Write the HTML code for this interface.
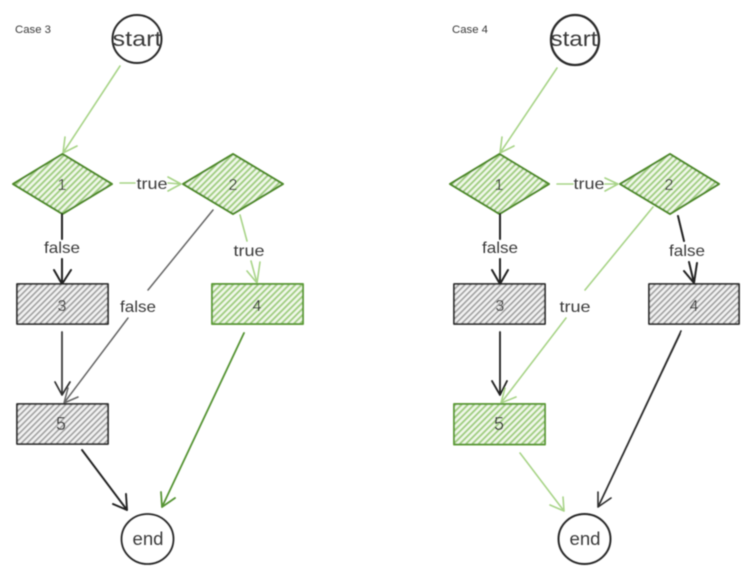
<!DOCTYPE html>
<html><head><meta charset="utf-8"><style>
html,body{margin:0;padding:0;background:#fff;width:746px;height:573px;overflow:hidden}
svg{display:block}
text{font-family:"Liberation Sans",sans-serif;fill:#3a3a3a;text-anchor:middle}
</style></head><body>
<svg width="746" height="573" viewBox="0 0 746 573" xmlns="http://www.w3.org/2000/svg">
<defs>
<pattern id="hg" width="4.4" height="4.4" patternUnits="userSpaceOnUse" patternTransform="rotate(45)">
<rect width="4.4" height="4.4" fill="#f1f8ea"/><rect width="2" height="4.4" fill="#a2cf82"/></pattern>
<pattern id="hk" width="4.2" height="4.2" patternUnits="userSpaceOnUse" patternTransform="rotate(45)">
<rect width="4.2" height="4.2" fill="#f2f2f2"/><rect width="1.7" height="4.2" fill="#a0a0a0"/></pattern>
<filter id="b" x="-5%" y="-5%" width="110%" height="110%"><feGaussianBlur stdDeviation="0.45"/></filter>
</defs>
<g filter="url(#b)" fill="none" stroke-linecap="round" stroke-linejoin="round">

<!-- CASE 3 -->
<text x="33" y="33" font-size="11" textLength="36" lengthAdjust="spacingAndGlyphs" stroke="none">Case 3</text>
<ellipse cx="137" cy="39" rx="24.5" ry="24" stroke="#2a2a2a" stroke-width="2"/>
<path d="M120 66 L63 153 M63 153 L77 146 M63 153 L65 137" stroke="#a8d488" stroke-width="1.6"/>
<polygon points="13,184 62.5,154 112,184 62.5,214" fill="url(#hg)" stroke="#4f8a2c" stroke-width="2"/>
<polygon points="183,184 233,154 283,184 233,214" fill="url(#hg)" stroke="#4f8a2c" stroke-width="2"/>
<path d="M120 183 L135 183 M168 183 L181 184 M168 177 L181 184 L168 191" stroke="#a8d488" stroke-width="1.6"/>
<path d="M62 214 L62 239 M62 259 L62 284 M54 270 L62 284 L71 270" stroke="#222" stroke-width="2"/>
<path d="M240 215 L247 241 M251 261 L257 283 M247 271 L257 283 L260 262" stroke="#a8d488" stroke-width="1.6"/>
<path d="M213 210 L148 290 M128 318 L64 403 M64 403 L78 397 M64 403 L68 388" stroke="#666" stroke-width="1.5"/>
<rect x="17" y="284" width="91" height="40" fill="url(#hk)" stroke="#2a2a2a" stroke-width="1.8"/>
<rect x="212" y="284" width="91" height="40" fill="url(#hg)" stroke="#5f9c3a" stroke-width="1.9"/>
<rect x="17" y="404" width="91" height="40" fill="url(#hk)" stroke="#2a2a2a" stroke-width="1.8"/>
<path d="M62 332 L62 395 M55 382 L62 395 L70 382" stroke="#333" stroke-width="1.7"/>
<path d="M82 450 L127 510 M113 504 L127 510 L126 494" stroke="#222" stroke-width="1.9"/>
<path d="M244 333 L162 507 M162 507 L175 498 M162 507 L161 492" stroke="#569434" stroke-width="1.8"/>
<ellipse cx="147.5" cy="539" rx="26" ry="25" stroke="#2a2a2a" stroke-width="1.8"/>

<!-- CASE 4 -->
<text x="470" y="33" font-size="11" textLength="36" lengthAdjust="spacingAndGlyphs" stroke="none">Case 4</text>
<ellipse cx="575" cy="40" rx="24" ry="25" stroke="#2a2a2a" stroke-width="2.3"/>
<path d="M557 68 L500 153 M500 153 L514 146 M500 153 L502 137" stroke="#a8d488" stroke-width="1.6"/>
<polygon points="450,184 499.5,154 549,184 499.5,214" fill="url(#hg)" stroke="#4f8a2c" stroke-width="2"/>
<polygon points="620,184 670,154 719,184 670,214" fill="url(#hg)" stroke="#4f8a2c" stroke-width="2"/>
<path d="M557 184 L573 184 M605 184 L618 184 M605 178 L618 184 L605 191" stroke="#a8d488" stroke-width="1.6"/>
<path d="M500 214 L500 239 M500 259 L500 284 M492 270 L500 284 L508 270" stroke="#222" stroke-width="2"/>
<path d="M678 216 L684 241 M689 262 L694 283 M684 271 L694 283 L697 263" stroke="#222" stroke-width="2"/>
<path d="M653 207 L585 290 M566 318 L501 403 M501 403 L516 397 M501 403 L505 388" stroke="#a8d488" stroke-width="1.6"/>
<rect x="454" y="284" width="91" height="40" fill="url(#hk)" stroke="#2a2a2a" stroke-width="1.8"/>
<rect x="649" y="284" width="90" height="40" fill="url(#hk)" stroke="#2a2a2a" stroke-width="1.8"/>
<rect x="454" y="404" width="91" height="40.5" fill="url(#hg)" stroke="#5f9c3a" stroke-width="1.9"/>
<path d="M500 332 L500 395 M492 381 L500 395 L507 381" stroke="#222" stroke-width="1.8"/>
<path d="M520 453 L564 511 M550 505 L564 511 L563 497" stroke="#a8d488" stroke-width="1.6"/>
<path d="M681 331 L598 507 M598 507 L611 498 M598 507 L598 492 M680 334 L600 503" stroke="#2e2e2e" stroke-width="1.6"/>
<ellipse cx="584.5" cy="539" rx="26" ry="25" stroke="#2a2a2a" stroke-width="2"/>

<!-- labels -->
<g stroke="none">
<text x="137" y="46" font-size="21" textLength="49" lengthAdjust="spacingAndGlyphs">start</text>
<text x="574" y="46" font-size="21" textLength="47" lengthAdjust="spacingAndGlyphs">start</text>
<text x="62" y="190" font-size="16">1</text>
<text x="233" y="190" font-size="16">2</text>
<text x="62" y="311" font-size="16">3</text>
<text x="257" y="311" font-size="16">4</text>
<text x="61" y="430" font-size="18">5</text>
<text x="148" y="545" font-size="18" textLength="31" lengthAdjust="spacingAndGlyphs">end</text>
<text x="152" y="189" font-size="16" textLength="31" lengthAdjust="spacingAndGlyphs">true</text>
<text x="62" y="253" font-size="16" textLength="36" lengthAdjust="spacingAndGlyphs">false</text>
<text x="249" y="256" font-size="16" textLength="31" lengthAdjust="spacingAndGlyphs">true</text>
<text x="138" y="312" font-size="16" textLength="36" lengthAdjust="spacingAndGlyphs">false</text>
<text x="499" y="190" font-size="16">1</text>
<text x="669" y="190" font-size="16">2</text>
<text x="500" y="311" font-size="16">3</text>
<text x="694" y="311" font-size="16">4</text>
<text x="499" y="430" font-size="18">5</text>
<text x="585" y="545" font-size="18" textLength="31" lengthAdjust="spacingAndGlyphs">end</text>
<text x="589" y="189" font-size="16" textLength="31" lengthAdjust="spacingAndGlyphs">true</text>
<text x="500" y="253" font-size="16" textLength="36" lengthAdjust="spacingAndGlyphs">false</text>
<text x="687" y="256" font-size="16" textLength="36" lengthAdjust="spacingAndGlyphs">false</text>
<text x="575" y="312" font-size="16" textLength="31" lengthAdjust="spacingAndGlyphs">true</text>
</g>
</g>
</svg>
</body></html>
